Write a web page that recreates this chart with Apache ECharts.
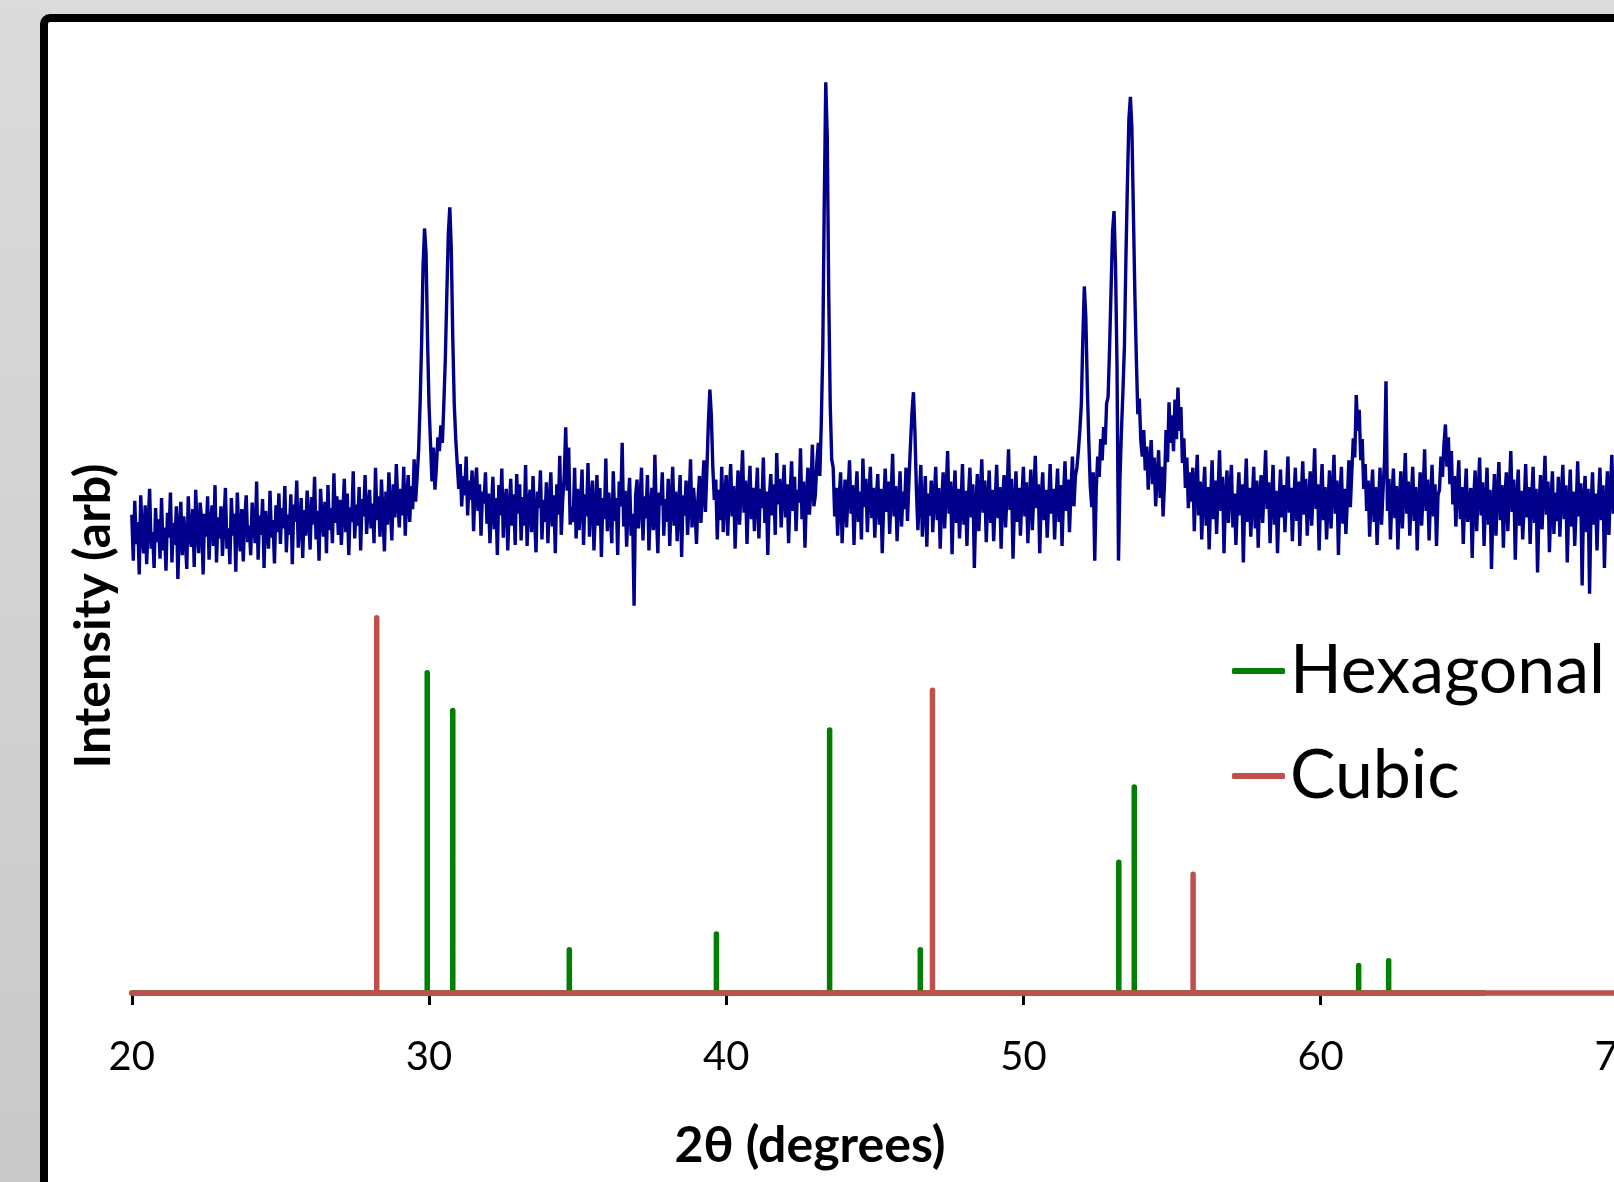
<!DOCTYPE html>
<html><head><meta charset="utf-8">
<script src="https://cdn.jsdelivr.net/npm/echarts@6/dist/echarts.min.js"></script>
<style>
html,body{margin:0;padding:0;overflow:hidden;width:1614px;height:1182px;background:#d4d4d4}
#c{width:1700px;height:1182px}
</style>
</head><body><div id="c"></div>
<script>
// 2θ of first sample and sampling step of the measured pattern
const xStart = 20, xStep = 0.05;
// measured XRD intensity (arbitrary units), one line per degree (20.00 ... 69.95), then 70.00
const xrdIntensity = [
520,470,535,488,512,455,541,497,478,530,466,509,548,483,501,462,527,490,515,472,
538,481,506,459,522,495,544,468,511,487,529,450,503,534,476,518,493,461,540,499,
485,526,463,547,502,478,533,514,455,521,496,540,471,509,530,486,552,468,517,494,
529,475,512,549,483,505,466,538,497,521,458,544,502,480,526,469,515,541,490,508,
476,533,510,489,556,471,519,498,537,462,524,506,483,546,495,514,467,530,501,543,
488,527,505,551,479,520,498,542,466,531,512,557,484,509,538,473,525,497,546,516,
482,539,509,561,493,524,470,548,515,496,534,478,552,503,527,489,565,511,540,498,
536,487,522,559,501,543,476,528,512,567,494,531,508,550,481,537,518,563,499,526,
547,505,532,489,571,514,540,496,558,521,480,545,509,566,528,492,553,517,575,534,
506,548,519,572,497,539,563,512,551,526,580,534,561,589,640,705,790,831,805,712,
640,598,556,593,547,572,604,589,617,598,641,690,760,825,854,808,712,640,602,575,
548,575,529,562,541,583,519,557,536,568,502,549,571,524,553,497,545,532,566,510,
543,489,527,561,504,538,476,552,519,570,495,533,548,481,526,559,508,542,487,564,
521,553,492,539,508,574,486,530,547,501,562,518,479,545,527,568,493,536,512,555,
489,532,566,507,541,478,553,520,584,498,537,562,615,546,593,509,528,512,571,494,
548,503,531,569,487,542,518,576,496,535,557,481,524,563,508,549,474,538,515,581,
502,544,521,489,567,513,538,476,556,529,598,507,546,485,531,560,497,521,421,540,
558,505,533,571,492,540,516,563,481,527,549,503,585,522,478,544,530,566,497,537,
512,559,486,534,572,508,545,491,528,563,474,541,519,557,498,533,580,506,549,526,
488,537,562,511,546,579,523,568,620,656,628,571,536,558,493,547,514,572,501,539,
563,497,542,575,518,551,483,534,568,509,546,590,522,557,488,540,573,515,549,502,
536,571,494,548,527,582,511,545,476,538,564,519,553,498,587,531,559,506,542,574,
517,553,489,541,578,524,561,502,547,533,592,515,556,484,539,571,520,548,596,529,
541,577,598,562,620,700,860,990,930,760,640,580,571,518,549,497,538,566,489,532,
558,506,543,579,521,552,487,536,567,512,545,493,581,528,559,501,540,572,516,549,
495,537,564,509,548,478,531,570,523,556,499,542,586,518,551,491,534,567,507,545,
526,571,513,558,596,630,653,610,547,503,539,574,496,528,562,485,543,519,557,501,
538,572,514,549,483,532,566,505,544,589,521,556,477,537,568,511,548,494,530,575,
509,546,486,539,571,517,553,462,528,564,502,541,580,522,557,490,535,568,511,547,
491,533,574,516,550,483,538,563,506,544,591,525,559,472,531,567,512,549,497,540,
572,518,555,489,536,569,503,542,584,527,553,478,539,566,514,547,495,532,575,521,
548,493,537,570,512,552,486,541,578,524,558,501,545,583,529,562,571,589,612,640,
712,768,735,660,600,551,528,566,470,547,583,561,602,579,615,596,641,648,702,765,
828,850,790,680,470,560,612,655,704,800,880,950,974,940,850,760,690,629,646,601,
583,612,568,594,547,576,601,553,582,529,561,590,538,572,518,556,612,577,642,598,
628,589,645,602,658,611,637,576,603,549,582,527,566,534,571,502,548,585,519,556,
493,541,572,508,550,482,536,579,515,557,499,545,590,524,561,478,539,568,511,548,
574,506,543,487,531,566,519,553,468,538,581,512,549,496,535,572,505,557,484,542,
563,511,548,590,526,555,489,537,574,509,546,478,531,569,517,552,501,540,583,522,
549,491,536,571,513,556,486,542,578,520,559,497,533,567,508,546,592,526,553,481,
538,575,514,550,493,532,568,505,544,585,521,557,476,539,572,510,548,499,535,579,
528,566,603,582,650,611,634,579,602,548,575,524,557,496,541,569,512,550,487,533,
571,509,546,578,665,524,559,493,538,570,516,551,482,534,567,505,543,587,521,556,
497,539,572,513,550,481,532,566,508,545,591,524,558,492,537,574,518,553,486,541,
547,583,561,596,618,572,604,553,589,531,562,507,548,579,515,550,488,536,570,512,
512,549,473,536,568,502,541,582,519,555,486,533,571,509,547,461,528,564,497,543,
577,514,552,484,538,566,502,545,589,523,558,471,535,569,508,546,493,531,575,517,
550,488,537,572,511,548,457,529,563,504,541,584,520,556,479,533,567,499,544,513,
561,496,539,574,515,552,468,531,569,507,545,486,527,578,518,554,443,536,562,501,
548,434,529,566,509,543,481,537,571,514,552,462,530,567,498,546,585,521,557,489,
535
];
// reference stick patterns
const hexPos = [29.94, 30.80, 34.72, 39.67, 43.48, 46.53, 53.21, 53.73, 61.28, 62.29];
const hexInt = [348, 307, 47, 64, 286, 47, 142, 224, 30, 35];
const cubicPos = [28.24, 46.94, 55.71];
const cubicInt = [408, 329, 129];
const xMin = 20, xMax = 70, xInterval = 10;
const xTitle = '2θ (degrees)';
const yTitle = 'Intensity (arb)';
const legendNames = ['Hexagonal', 'Cubic'];

const xrdData = xrdIntensity.map((v, i) => [+(xStart + i * xStep).toFixed(2), v]);
function sticks(pos, h, end) {
  const d = [[xMin, 0]];
  pos.forEach((p, i) => { d.push([p, 0], [p, h[i]], [p, 0]); });
  d.push([end, 0]);
  return d;
}
const FONT = 'Lato, "Open Sans", sans-serif';
const chart = echarts.init(document.getElementById('c'), null, {renderer: 'canvas'});
chart.setOption({
  animation: false,
  backgroundColor: {type: 'linear', x: 0, y: 0, x2: 0, y2: 1,
    colorStops: [{offset: 0, color: '#dbdbdb'}, {offset: 1, color: '#c9c9c9'}]},
  graphic: [
    {type: 'rect', z: -10, silent: true, shape: {x: 44, y: 18, width: 2000, height: 2000, r: 6},
     style: {fill: '#ffffff', stroke: '#000000', lineWidth: 8}},
    {type: 'text', x: 810, y: 1146, silent: true,
     style: {text: xTitle, fontSize: 50, fontWeight: 'bold', fontFamily: FONT, fill: '#000', align: 'center', verticalAlign: 'middle'}},
    {type: 'text', x: 94, y: 616, rotation: Math.PI / 2, silent: true,
     style: {text: yTitle, fontSize: 50, fontWeight: 'bold', fontFamily: FONT, fill: '#000', align: 'center', verticalAlign: 'middle'}}
  ],
  grid: {left: 131.8, top: 73, width: 1486, height: 920},
  legend: {
    orient: 'vertical', left: 1227, top: 632, itemWidth: 53, itemHeight: 6, itemGap: 37,
    selectedMode: false,
    textStyle: {fontSize: 68, fontFamily: FONT, color: '#000', lineHeight: 68},
    data: [{name: legendNames[0], icon: 'roundRect'}, {name: legendNames[1], icon: 'roundRect'}]
  },
  xAxis: {
    type: 'value', min: xMin, max: xMax, interval: xInterval,
    axisLine: {show: true, onZero: true, lineStyle: {color: '#000', width: 3}},
    axisTick: {show: true, length: 12, lineStyle: {color: '#000', width: 3}},
    axisLabel: {fontSize: 40, fontFamily: FONT, color: '#000', margin: 44},
    splitLine: {show: false}
  },
  yAxis: {type: 'value', min: 0, max: 1000, show: false, splitLine: {show: false}},
  series: [
    {name: 'XRD', type: 'line', data: xrdData, showSymbol: false, symbol: 'none',
     lineStyle: {color: '#00008b', width: 3.4}, itemStyle: {color: '#00008b'}, z: 3},
    {name: legendNames[0], type: 'line', data: sticks(hexPos, hexInt, 65.5), showSymbol: false, symbol: 'none', clip: false,
     lineStyle: {color: '#008000', width: 5.5, cap: 'round', join: 'round'}, itemStyle: {color: '#008000'}, z: 4},
    {name: legendNames[1], type: 'line', data: sticks(cubicPos, cubicInt, xMax), showSymbol: false, symbol: 'none', clip: false,
     lineStyle: {color: '#c0504d', width: 5.5, cap: 'round', join: 'round'}, itemStyle: {color: '#c0504d'}, z: 5}
  ]
});
</script>
</body></html>
